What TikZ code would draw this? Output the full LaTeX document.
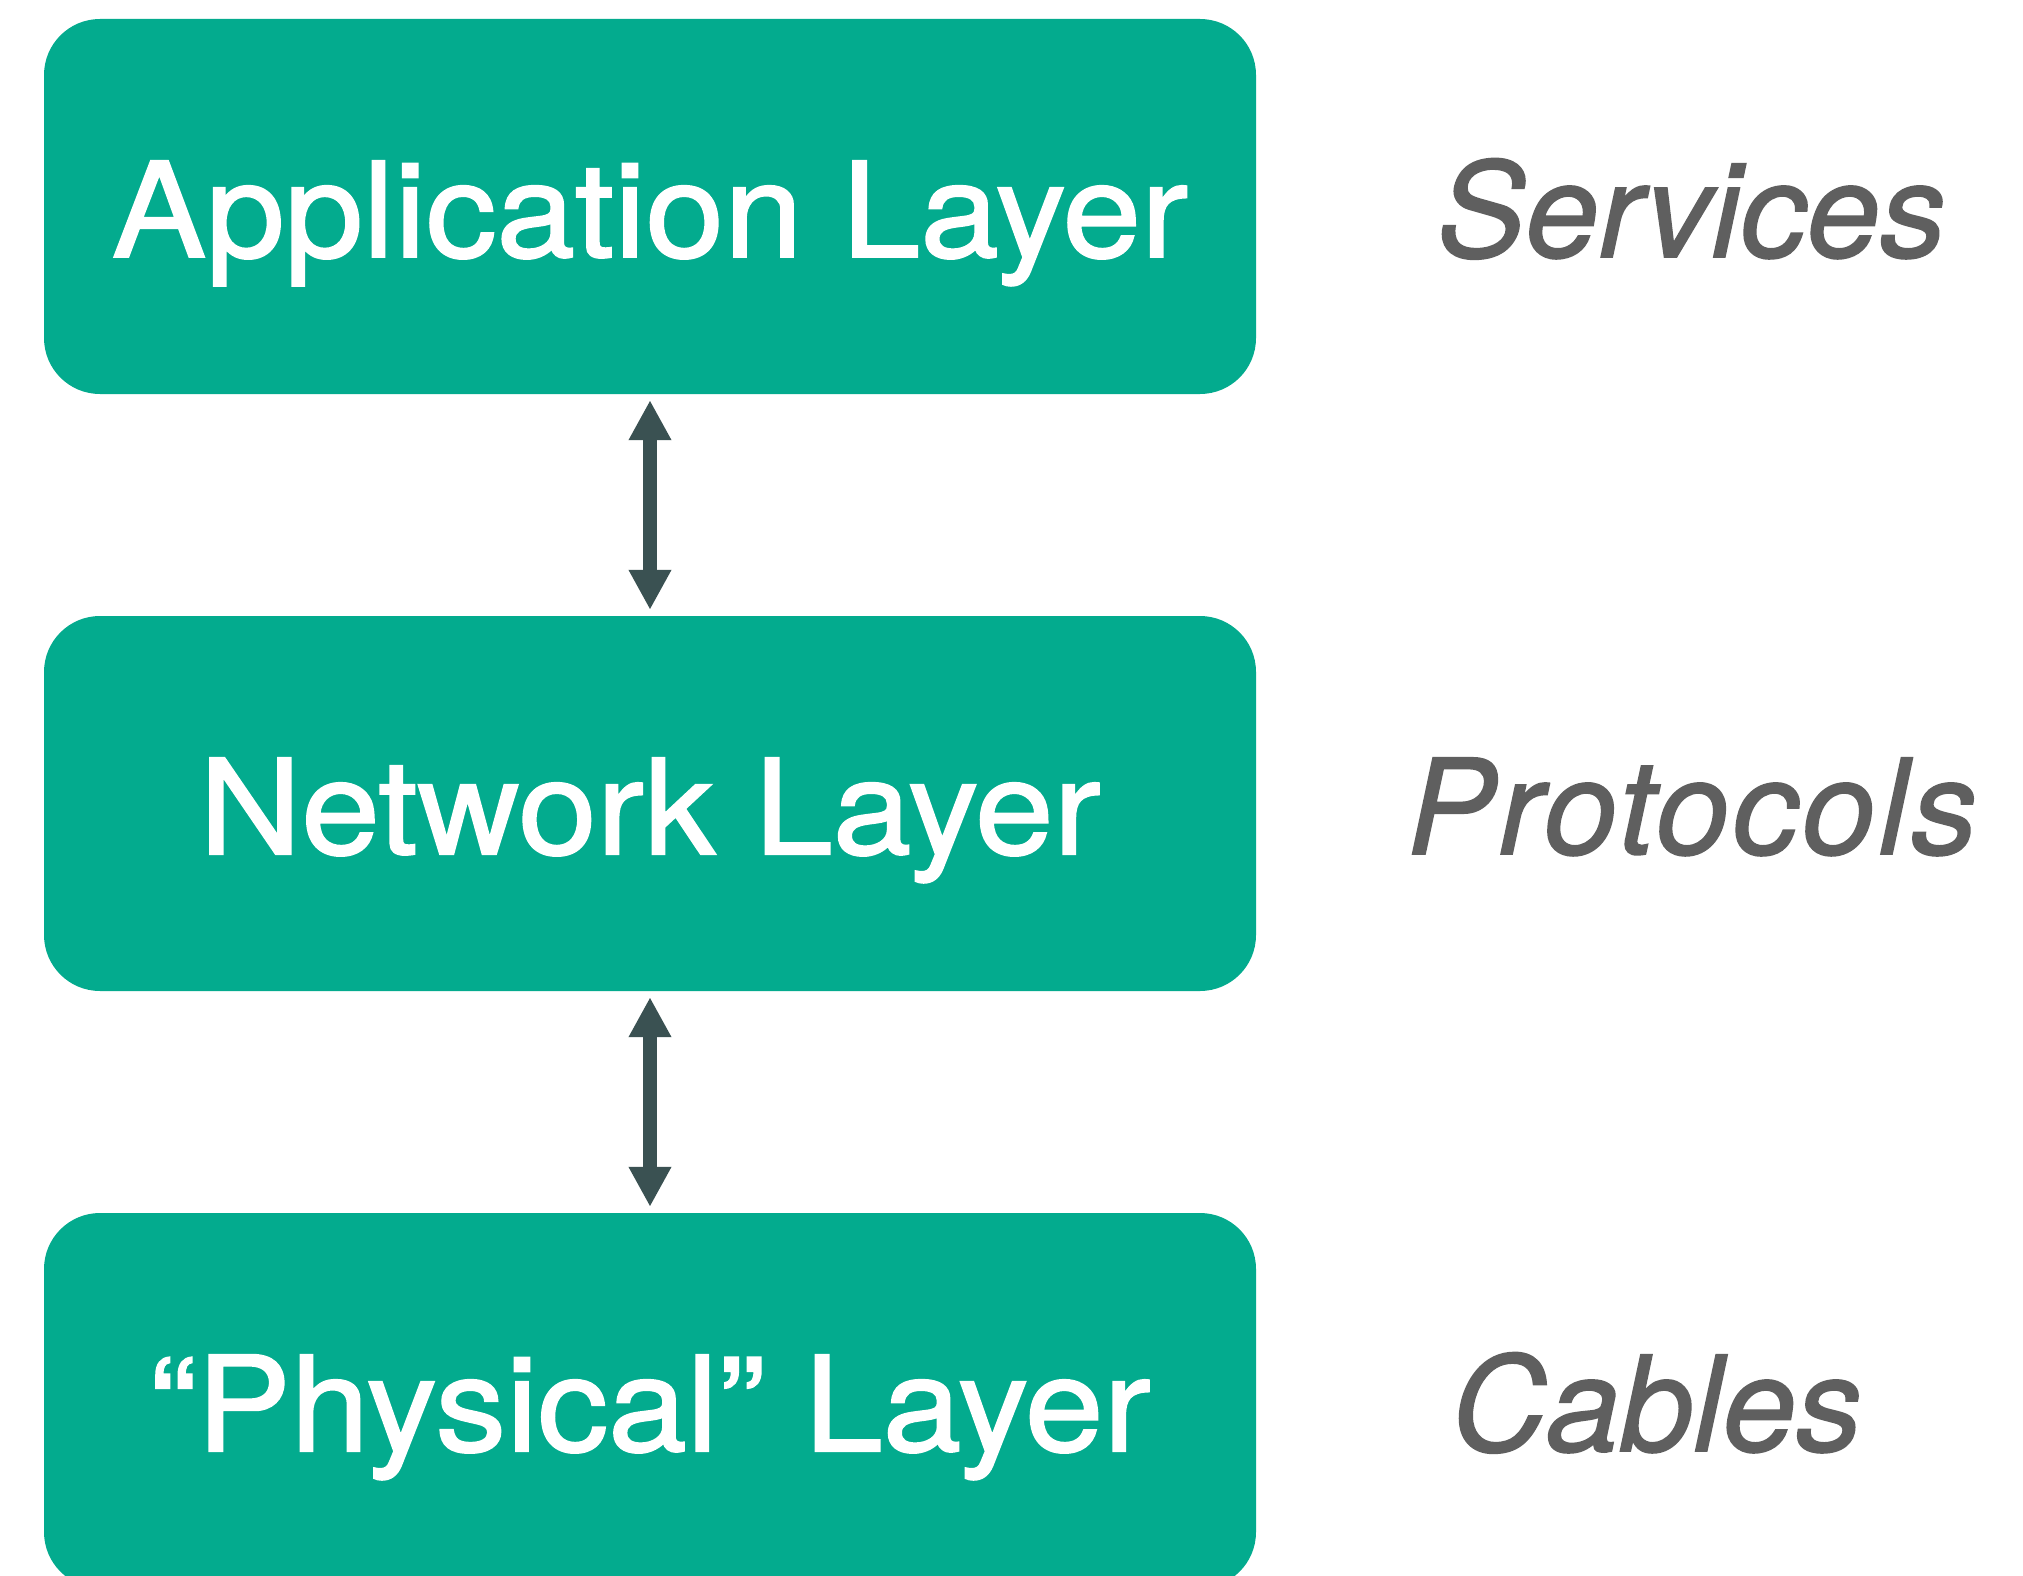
\documentclass[tikz,border=0pt]{standalone}
\usepackage{fontspec}
\setmainfont{TeX Gyre Heros}
\newfontfamily\layerfont[FakeStretch=1.07,FakeBold=1.5]{TeX Gyre Heros}
\newfontfamily\notefont[FakeBold=1.2]{TeX Gyre Heros}
\usetikzlibrary{arrows.meta}
\definecolor{layergreen}{HTML}{03AB8E}
\definecolor{arrowslate}{HTML}{3A5152}
\definecolor{notegrey}{HTML}{5F5F5F}
\tikzset{
  layer/.style={fill=layergreen, draw=none, rounded corners=56pt,
    minimum width=1212pt, minimum height=375pt, inner sep=0pt,
    text=white, font=\layerfont\fontsize{132}{150}\selectfont,
    text height=101pt, text depth=0pt},
  note/.style={text=notegrey, font=\notefont\fontsize{132}{150}\selectfont\itshape,
    anchor=base west, inner sep=0pt},
  link/.style={draw=arrowslate, line width=14pt,
    {Triangle[width=40pt,length=40pt]}-{Triangle[width=40pt,length=40pt]},
    shorten >=6pt, shorten <=6pt}
}
\begin{document}
\begin{tikzpicture}[x=1pt,y=-1pt]
  \fill[white] (0,0) rectangle (2023,1576);
  \useasboundingbox (0,0) rectangle (2023,1576);
  \clip (0,0) rectangle (2023,1576);

  % the three stacked layers
  \node[layer] (app) at (650,206.5) {Application Layer};
  \node[layer] (net) at (650,803.5) {Network Layer};
  \node[layer] (phy) at (650,1400.5) {“Physical” Layer};

  % what each layer stands for
  \node[note] (svc) at (1437,257) {Services};
  \node[note] (prt) at (1407,854) {\addfontfeatures{LetterSpace=2.5}Protocols};
  \node[note] (cab) at (1451,1451) {Cables};

  % two-way links between neighbouring layers
  \draw[link] (app.south) -- (net.north);
  \draw[link] (net.south) -- (phy.north);
\end{tikzpicture}
\end{document}
